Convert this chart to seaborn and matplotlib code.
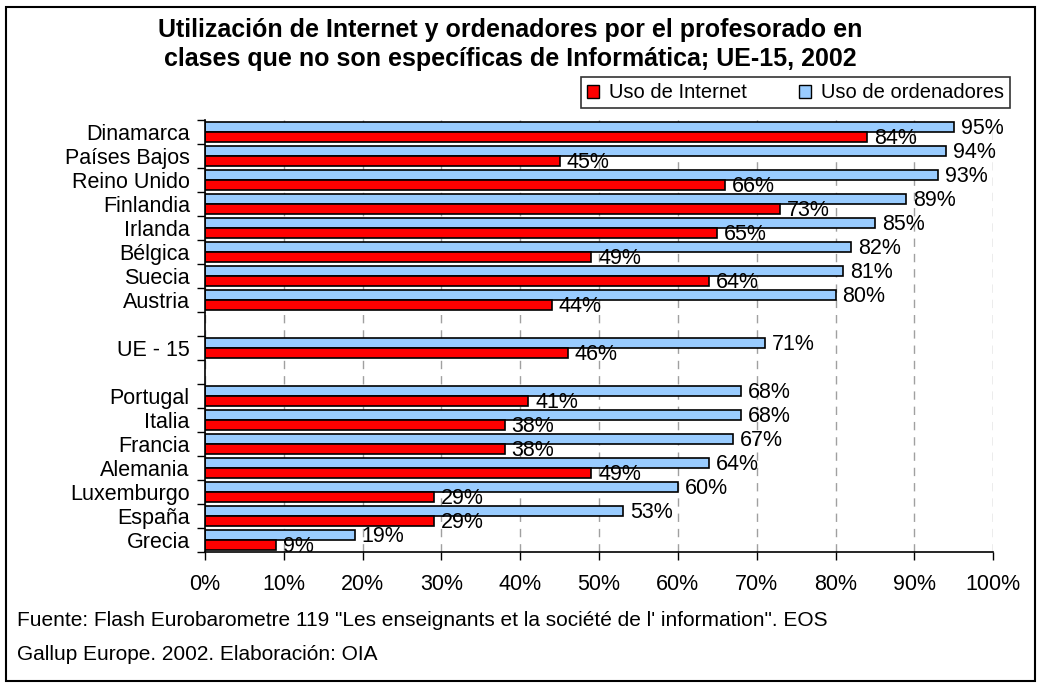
import matplotlib
matplotlib.use("Agg")
import matplotlib.pyplot as plt
import seaborn as sns
import pandas as pd
import numpy as np
from matplotlib.patches import Rectangle, Patch

sns.set_theme(style="white")
plt.rcParams['font.family'] = ['Liberation Sans', 'DejaVu Sans']
plt.rcParams['text.color'] = 'black'
plt.rcParams['xtick.color'] = 'black'
plt.rcParams['ytick.color'] = 'black'
plt.rcParams['xtick.labelcolor'] = 'black'
plt.rcParams['ytick.labelcolor'] = 'black'

categories = ["Dinamarca", "Países Bajos", "Reino Unido", "Finlandia", "Irlanda",
              "Bélgica", "Suecia", "Austria", " ", "UE - 15", "  ",
              "Portugal", "Italia", "Francia", "Alemania", "Luxemburgo", "España", "Grecia"]
ordenadores = [95, 94, 93, 89, 85, 82, 81, 80, np.nan, 71, np.nan, 68, 68, 67, 64, 60, 53, 19]
internet = [84, 45, 66, 73, 65, 49, 64, 44, np.nan, 46, np.nan, 41, 38, 38, 49, 29, 29, 9]
series = ["Uso de ordenadores", "Uso de Internet"]
colors = {"Uso de ordenadores": "#99CCFF", "Uso de Internet": "#FF0000"}
xticks = [0, 10, 20, 30, 40, 50, 60, 70, 80, 90, 100]

df = pd.DataFrame({
    "pais": categories * 2,
    "serie": [series[0]] * len(categories) + [series[1]] * len(categories),
    "valor": list(ordenadores) + list(internet),
})

fig = plt.figure(figsize=(10.41, 6.88), dpi=100)
ax = fig.add_axes([0.197, 0.198, 0.757, 0.628])

sns.barplot(data=df, y="pais", x="valor", hue="serie", order=categories,
            hue_order=series, palette=colors, orient="h", width=0.84, gap=0,
            saturation=1, edgecolor="black", linewidth=1.2, ax=ax, legend=False,
            errorbar=None)

ax.set_xlim(0, 100)
ax.set_ylim(len(categories) - 0.5, -0.5)
ax.set_xlabel("")
ax.set_ylabel("")

# value labels taken from each drawn bar
for cont in ax.containers:
    for bar in cont:
        v = bar.get_width()
        if not np.isfinite(v) or v == 0:
            continue
        y = bar.get_y() + bar.get_height() / 2
        ax.annotate(f"{v:.0f}%", xy=(v, y), xytext=(5, -1), textcoords="offset points",
                    ha="left", va="center", fontsize=15.5, color="black")

# axes styling
ax.set_xticks(xticks)
ax.set_xticklabels([f"{t}%" for t in xticks], fontsize=15.5, color="black")
ax.set_yticks(np.arange(len(categories) + 1) - 0.5)
ax.set_yticklabels([])
ax.set_yticks(np.arange(len(categories)), minor=True)
ax.set_yticklabels(categories, minor=True, fontsize=15.5, color="black")
ax.tick_params(axis="y", which="major", direction="out", length=6, width=1, color="black", left=True)
ax.tick_params(axis="y", which="minor", length=0, pad=11)
ax.tick_params(axis="x", direction="out", length=6, width=1, color="black", bottom=True, pad=10)
for s in ["top", "right"]:
    ax.spines[s].set_visible(False)
for s in ["left", "bottom"]:
    ax.spines[s].set_color("black")
    ax.spines[s].set_linewidth(1.2)
ax.xaxis.grid(True, color="#A0A0A0", linestyle=(0, (6, 5)), linewidth=1)
ax.yaxis.grid(False)
ax.set_axisbelow(True)

# title
fig.text(0.49, 0.974, "Utilización de Internet y ordenadores por el profesorado en\n"
         "clases que no son específicas de Informática; UE-15, 2002",
         ha="center", va="top", fontsize=18, fontweight="bold", linespacing=1.28,
         color="black")

# legend
handles = [Patch(facecolor=colors["Uso de Internet"], edgecolor="black", label="Uso de Internet"),
           Patch(facecolor=colors["Uso de ordenadores"], edgecolor="black", label="Uso de ordenadores")]
leg = fig.legend(handles=handles, loc="center", bbox_to_anchor=(0.764, 0.865), ncol=2,
                 fontsize=14.5, frameon=True, fancybox=False, edgecolor="black",
                 handlelength=0.6, handleheight=0.6, handletextpad=0.5, columnspacing=2.6,
                 borderpad=0.3, borderaxespad=0.4)
leg.get_frame().set_linewidth(1.2)
for t in leg.get_texts():
    t.set_color("black")

# footer
fig.text(0.016, 0.0988, "Fuente: Flash Eurobarometre 119 \"Les enseignants et la société de l' information\". EOS",
         ha="left", va="center", fontsize=15, color="black")
fig.text(0.016, 0.048, "Gallup Europe. 2002. Elaboración: OIA", ha="left", va="center",
         fontsize=15, color="black")

# outer frame
fig.patches.append(Rectangle((0.006, 0.01), 0.988, 0.98, transform=fig.transFigure,
                             fill=False, edgecolor="black", linewidth=1.5))

fig.savefig("out.png", dpi=100)
